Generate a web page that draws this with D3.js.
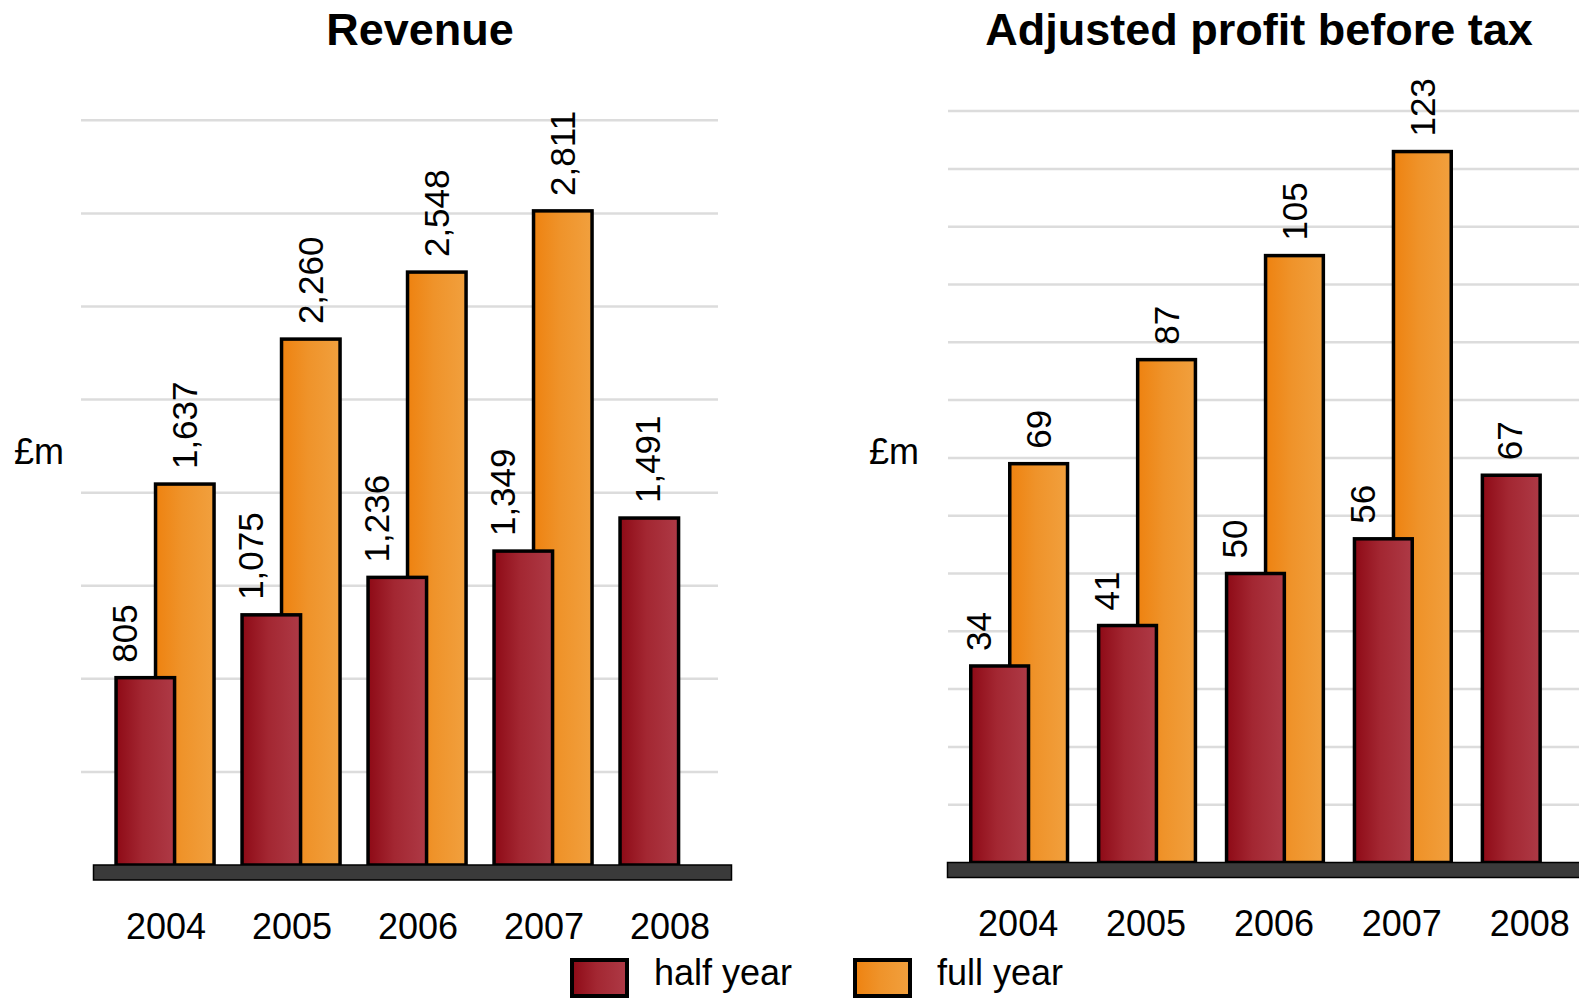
<!DOCTYPE html>
<html>
<head>
<meta charset="utf-8">
<script src="https://cdn.jsdelivr.net/npm/d3@7"></script>
<style>
  html, body { margin: 0; padding: 0; background: #fff; }
  svg { display: block; font-family: "Liberation Sans", Arial, sans-serif; }
</style>
</head>
<body>
<svg id="chart" width="1579" height="1000"></svg>
<script>
// Results by year: half-year and full-year figures, £m
const years = ["2004", "2005", "2006", "2007", "2008"];
const revenueHalf = [805, 1075, 1236, 1349, 1491];
const revenueFull = [1637, 2260, 2548, 2811, null];
const profitHalf = [34, 41, 50, 56, 67];
const profitFull = [69, 87, 105, 123, null];
const revenueGrid = [400, 800, 1200, 1600, 2000, 2400, 2800, 3200];
const profitGrid = [10, 20, 30, 40, 50, 60, 70, 80, 90, 100, 110, 120, 130];
const seriesNames = ["half year", "full year"];

const svg = d3.select("#chart");
const defs = svg.append("defs");

function gradient(id, stops) {
  const g = defs.append("linearGradient").attr("id", id)
    .attr("x1", "0").attr("y1", "0").attr("x2", "1").attr("y2", "0");
  stops.forEach(([o, c]) => g.append("stop").attr("offset", o).attr("stop-color", c));
}
gradient("gHalf", [[0, "#8e0a16"], [0.45, "#a32732"], [1, "#ae3a46"]]);
gradient("gFull", [[0, "#ee8210"], [0.45, "#ef932a"], [1, "#f1a03e"]]);
const fills = ["url(#gHalf)", "url(#gFull)"];

const fmt = d3.format(",");
const SW = 3.5; // bar outline width

function panel(cfg) {
  const g = svg.append("g");
  const y = d3.scaleLinear().domain([0, cfg.max]).range([cfg.base, cfg.top]);
  const x = d3.scaleBand().domain(years).range(cfg.xRange)
    .paddingInner(cfg.pad).paddingOuter(0);
  const bw = x.bandwidth();
  const barW = bw * 0.611;
  const fullOff = bw * 0.389;

  // horizontal gridlines
  g.selectAll("line.grid").data(cfg.grid).join("line")
    .attr("x1", cfg.gridX[0]).attr("x2", cfg.gridX[1])
    .attr("y1", d => y(d)).attr("y2", d => y(d))
    .attr("stroke", "#dcdcdc").attr("stroke-width", 2.5);

  const rows = years.map((yr, i) => ({ yr, half: cfg.half[i], full: cfg.full[i] }));

  // full-year bars sit behind the half-year bars
  g.selectAll("rect.full").data(rows.filter(d => d.full != null)).join("rect")
    .attr("x", d => x(d.yr) + fullOff + SW / 2)
    .attr("y", d => y(d.full))
    .attr("width", barW - SW)
    .attr("height", d => y(0) - y(d.full))
    .attr("fill", fills[1]).attr("stroke", "#000").attr("stroke-width", SW);

  g.selectAll("rect.half").data(rows).join("rect")
    .attr("x", d => x(d.yr) + SW / 2)
    .attr("y", d => y(d.half))
    .attr("width", barW - SW)
    .attr("height", d => y(0) - y(d.half))
    .attr("fill", fills[0]).attr("stroke", "#000").attr("stroke-width", SW);

  // value labels, rotated
  const label = (sel, cx, val) => sel
    .attr("transform", d => `translate(${cx(d)},${y(val(d)) - 15}) rotate(-90)`)
    .attr("dy", "0.36em")
    .attr("font-size", 35)
    .attr("fill", "#000")
    .text(d => fmt(val(d)));

  g.selectAll("text.vh").data(rows).join("text")
    .call(label, d => x(d.yr) + barW / 2 - (d.full != null ? 21 : 2), d => d.half);
  g.selectAll("text.vf").data(rows.filter(d => d.full != null)).join("text")
    .call(label, d => x(d.yr) + fullOff + barW / 2, d => d.full);

  // base plate
  g.append("rect")
    .attr("x", cfg.plateX[0]).attr("y", y(0))
    .attr("width", cfg.plateX[1] - cfg.plateX[0]).attr("height", 15)
    .attr("fill", "#3a3a3a").attr("stroke", "#000").attr("stroke-width", 1.5);

  // category axis labels
  const xAxis = d3.axisBottom(x).tickSize(0).tickPadding(0);
  const ax = g.append("g").attr("transform", `translate(${cfg.labelDx},${cfg.base + 48})`).call(xAxis);
  ax.select(".domain").remove();
  ax.selectAll("text").attr("font-size", 36).attr("fill", "#000")
    .attr("font-family", "'Liberation Sans', Arial, sans-serif")
    .attr("dy", "0.72em");

  // title and unit
  g.append("text").attr("x", cfg.titleX).attr("y", 45)
    .attr("text-anchor", "middle").attr("font-size", 45).attr("font-weight", "bold")
    .text(cfg.title);
  g.append("text").attr("x", cfg.unitX).attr("y", 464)
    .attr("font-size", 36).text("£m");
}

panel({
  title: "Revenue", titleX: 420, unitX: 14,
  half: revenueHalf, full: revenueFull, grid: revenueGrid, max: 3200,
  base: 865, top: 865 - 3200 * 0.2327,
  xRange: [114.3, 719.8], pad: 0.1944, labelDx: 1,
  gridX: [81, 718], plateX: [93.5, 731.5]
});

panel({
  title: "Adjusted profit before tax", titleX: 1259, unitX: 869,
  half: profitHalf, full: profitFull, grid: profitGrid, max: 130,
  base: 862.5, top: 862.5 - 130 * 5.78,
  xRange: [969, 1580.9], pad: 0.216, labelDx: -1,
  gridX: [948, 1579], plateX: [947.5, 1585]
});

// legend
const legend = svg.append("g");
const legX = [570, 853];
seriesNames.forEach((name, i) => {
  legend.append("rect")
    .attr("x", legX[i] + 2).attr("y", 960)
    .attr("width", 55).attr("height", 36)
    .attr("fill", fills[i]).attr("stroke", "#000").attr("stroke-width", 4);
  legend.append("text")
    .attr("x", legX[i] + 84).attr("y", 985)
    .attr("font-size", 36).text(name);
});
</script>
</body>
</html>
